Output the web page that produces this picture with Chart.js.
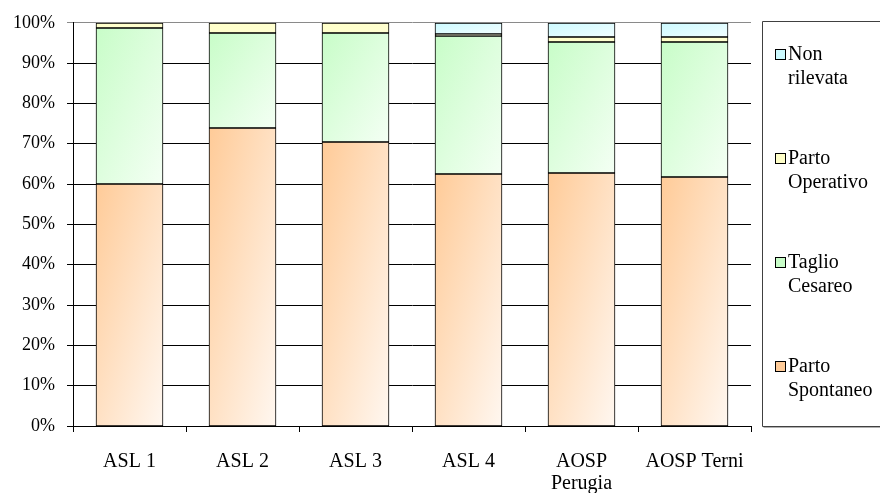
<!DOCTYPE html>
<html>
<head>
<meta charset="utf-8">
<script src="https://cdn.jsdelivr.net/npm/chart.js@4/dist/chart.umd.min.js"></script>
<style>
  html, body { margin: 0; padding: 0; background: #ffffff; }
  #wrap { width: 880px; height: 493px; position: relative; }
</style>
</head>
<body>
<div id="wrap"><canvas id="chart" width="880" height="493"></canvas></div>
<script>
// Categories (struttura) and the share of each type of delivery, in percent
const categories = ['ASL 1', 'ASL 2', 'ASL 3', 'ASL 4', ['AOSP', 'Perugia'], 'AOSP Terni'];
const partoSpontaneo = [60.0, 73.9, 70.5, 62.6, 62.8, 61.7];
const taglioCesareo  = [38.8, 23.6, 27.0, 34.2, 32.5, 33.6];
const partoOperativo = [1.2, 2.5, 2.5, 0.5, 1.1, 1.1];
const nonRilevata    = [0.0, 0.0, 0.0, 2.7, 3.6, 3.6];
const yTicks = [0, 10, 20, 30, 40, 50, 60, 70, 80, 90, 100];

const seriesLabels = [['Parto', 'Spontaneo'], ['Taglio', 'Cesareo'], ['Parto', 'Operativo'], ['Non', 'rilevata']];
// gradient start / end colour per series
const fillFrom = ['#FFCB98', '#C8FDC8', '#FFFFC8', '#CCFAFF'];
const fillTo   = ['#FFF7F0', '#F4FFF4', '#FFFFD2', '#F2FEFF'];

const FONT = 'Liberation Serif, Times New Roman, serif';

// Snap segment edges to whole pixels and fill each one with a diagonal gradient
// whose isolines run along the segment's anti-diagonal
const gradientFill = {
  id: 'gradientFill',
  beforeDatasetsDraw(chart) {
    const ctx = chart.ctx;
    chart.data.datasets.forEach((ds, di) => {
      const meta = chart.getDatasetMeta(di);
      meta.data.forEach(el => {
        el.y = Math.round(el.y);
        el.base = Math.round(el.base);
        const w = el.width;
        const top = Math.min(el.y, el.base);
        const h = Math.max(Math.abs(el.base - el.y), 0.5);
        const x0 = el.x - w / 2;
        const t = (2 * w * h) / (w * w + h * h);
        const g = ctx.createLinearGradient(x0, top, x0 + h * t, top + w * t);
        g.addColorStop(0, fillFrom[di]);
        g.addColorStop(1, fillTo[di]);
        el.options = Object.assign({}, el.options, { backgroundColor: g });
      });
    });
  }
};

// Boxed legend on the right, series listed top-down as stacked
const boxLegend = {
  id: 'boxLegend',
  afterDraw(chart) {
    const ctx = chart.ctx;
    const left = 762.5, top = 21.5, bottom = 426.5;
    ctx.save();
    ctx.strokeStyle = '#404040';
    ctx.lineWidth = 1;
    ctx.beginPath();
    ctx.moveTo(885, top); ctx.lineTo(left, top); ctx.lineTo(left, bottom); ctx.lineTo(885, bottom);
    ctx.stroke();
    ctx.strokeStyle = '#b0b0b0';
    ctx.beginPath();
    ctx.moveTo(left + 1, bottom + 1); ctx.lineTo(885, bottom + 1);
    ctx.stroke();

    ctx.font = '20px ' + FONT;
    ctx.textBaseline = 'middle';
    ctx.textAlign = 'left';
    const n = chart.data.datasets.length;
    for (let k = 0; k < n; k++) {
      const di = n - 1 - k;
      const cy = 55 + k * 104;
      ctx.fillStyle = fillFrom[di];
      ctx.fillRect(775.5, cy - 5.5, 10, 10);
      ctx.strokeStyle = '#000';
      ctx.strokeRect(775.5, cy - 5.5, 10, 10);
      ctx.fillStyle = '#000';
      const lines = chart.data.datasets[di].label;
      lines.forEach((ln, j) => ctx.fillText(ln, 788, cy + j * 24));
    }
    ctx.restore();
  }
};

const seriesData = [partoSpontaneo, taglioCesareo, partoOperativo, nonRilevata];

new Chart(document.getElementById('chart'), {
  type: 'bar',
  data: {
    labels: categories,
    datasets: seriesData.map((d, i) => ({
      label: seriesLabels[i],
      data: d,
      backgroundColor: fillFrom[i],
      borderColor: '#000',
      borderWidth: 1,
      borderSkipped: false,
      barThickness: 67
    }))
  },
  options: {
    responsive: false,
    animation: false,
    devicePixelRatio: 1,
    layout: { padding: { left: 0, right: 129, top: 22, bottom: 0 } },
    plugins: {
      legend: { display: false },
      tooltip: { enabled: false }
    },
    scales: {
      x: {
        stacked: true,
        offset: true,
        afterFit(scale) { scale.height = 67; },
        grid: {
          offset: true,
          drawOnChartArea: false,
          drawTicks: true,
          tickLength: 6,
          color: '#000'
        },
        border: { display: true, color: '#000', width: 1 },
        ticks: {
          color: '#000',
          padding: 19,
          maxRotation: 0,
          autoSkip: false,
          font: { family: FONT, size: 20, lineHeight: 1.1 }
        }
      },
      y: {
        stacked: true,
        min: 0,
        max: 100,
        afterFit(scale) { scale.width = 73; },
        afterBuildTicks(scale) { scale.ticks = yTicks.map(v => ({ value: v })); },
        grid: {
          drawTicks: true,
          tickLength: 6,
          color: ctx => (ctx.tick && ctx.tick.value === 100 ? '#8a8a8a' : '#000')
        },
        border: { display: true, color: '#000', width: 1 },
        ticks: {
          color: '#000',
          padding: 12,
          callback: v => v + '%',
          font: { family: FONT, size: 18 }
        }
      }
    }
  },
  plugins: [gradientFill, boxLegend]
});
</script>
</body>
</html>
